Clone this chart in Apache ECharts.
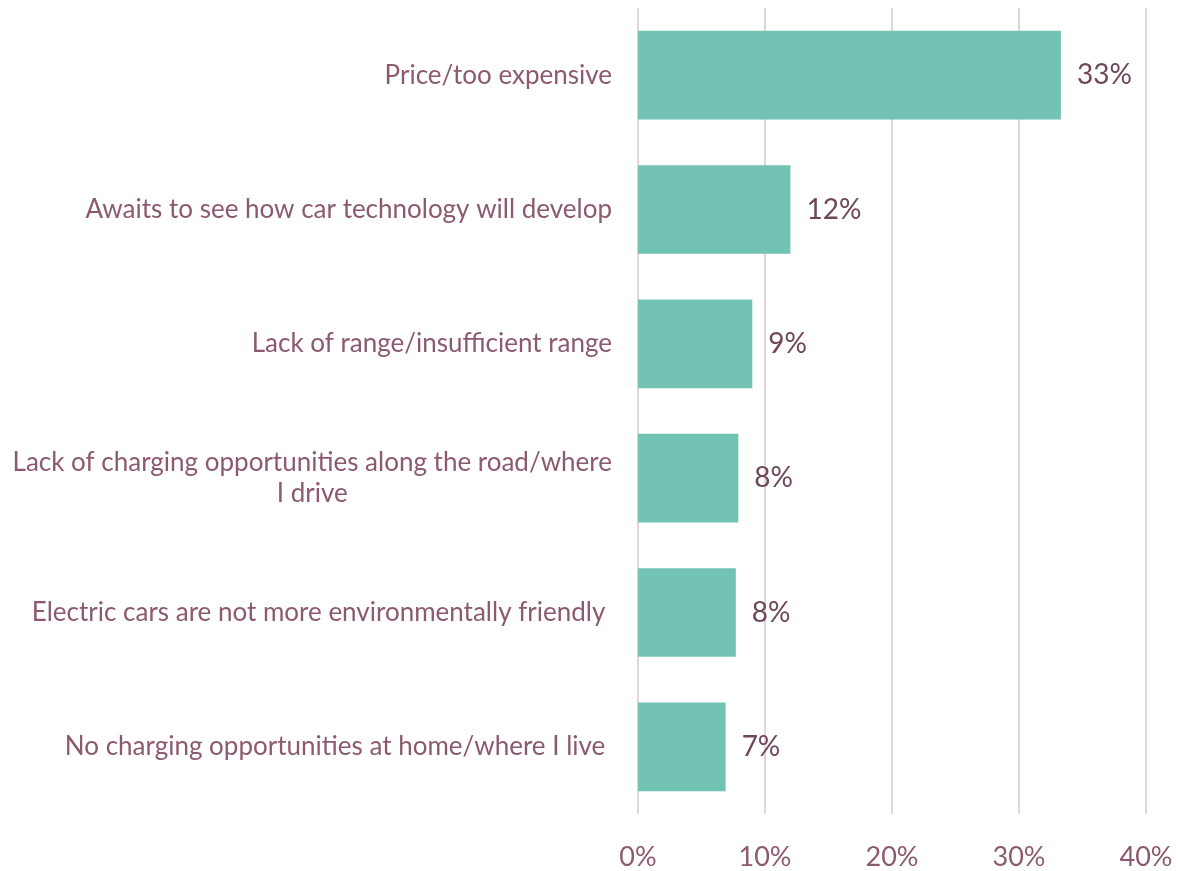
<!DOCTYPE html>
<html style="height: 100%">
<head>
  <meta charset="utf-8">
  <script type="text/javascript" src="https://cdn.jsdelivr.net/npm/echarts@6/dist/echarts.min.js"></script>
</head>
<body style="height: 100%; margin: 0; background: #fff">
  <div id="container" style="height: 100%"></div>
  <script type="text/javascript">
    // categories listed bottom to top (category axis starts at the bottom)
    var reasons = [
      'No charging opportunities at home/where I live ',
      'Electric cars are not more environmentally friendly ',
      'Lack of charging opportunities along the road/where\nI drive',
      'Lack of range/insufficient range',
      'Awaits to see how car technology will develop',
      'Price/too expensive'
    ];
    var shares = [6.9, 7.7, 7.9, 9.0, 12.0, 33.3];
    var tickValues = [0, 10, 20, 30, 40];

    var dom = document.getElementById('container');
    var myChart = echarts.init(dom, null, { renderer: 'canvas' });
    var font = 'Lato';

    var option = {
      animation: false,
      grid: {
        left: 638,
        right: 32,
        top: 8,
        bottom: 56,
        containLabel: false
      },
      xAxis: {
        type: 'value',
        min: tickValues[0],
        max: tickValues[tickValues.length - 1],
        interval: 10,
        axisLine: { show: false },
        axisTick: { show: false },
        splitLine: { lineStyle: { color: '#e3d5dc', width: 2 } },
        axisLabel: {
          formatter: '{value}%',
          color: '#8c5a6e',
          fontFamily: font,
          fontSize: 27,
          margin: 30
        }
      },
      yAxis: {
        type: 'category',
        data: reasons,
        axisLine: { show: false },
        axisTick: { show: false },
        axisLabel: {
          color: '#8c5a6e',
          fontFamily: font,
          fontSize: 26,
          margin: 26,
          formatter: function (v) {
            return v.split('\n').map(function (l) { return '{c|' + l + '}'; }).join('\n');
          },
          rich: {
            c: {
              align: 'center',
              color: '#8c5a6e',
              fontFamily: font,
              fontSize: 26,
              lineHeight: 31
            }
          }
        }
      },
      series: [{
        type: 'bar',
        data: shares,
        barCategoryGap: '34%',
        itemStyle: { color: '#72c3b3' },
        label: {
          show: true,
          position: 'right',
          distance: 16,
          color: '#6e4759',
          fontFamily: font,
          fontSize: 28,
          formatter: function (p) { return Math.round(p.value) + '%'; }
        }
      }]
    };

    myChart.setOption(option);
  </script>
</body>
</html>
